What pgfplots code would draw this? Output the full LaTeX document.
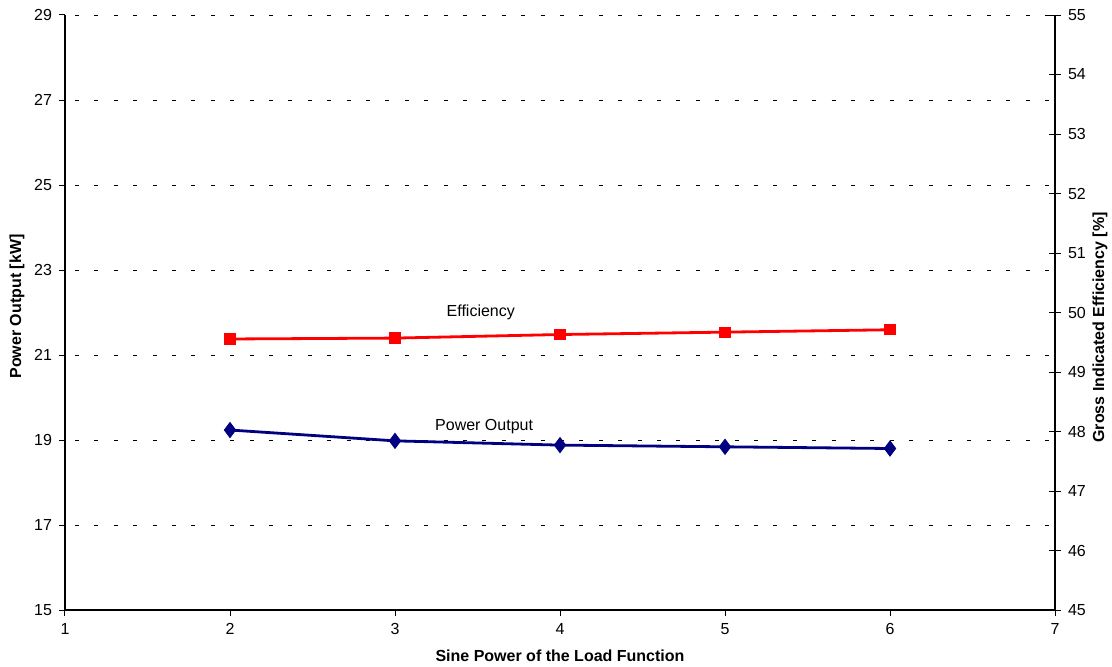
\documentclass[border=0pt]{standalone}
\usepackage{pgfplots}
\pgfplotsset{compat=1.18}
\usepackage{fontspec}
\setmainfont{Liberation Sans}
\definecolor{navyline}{RGB}{0,0,128}
\begin{document}
\begin{tikzpicture}
\useasboundingbox (-32.5pt,-28pt) rectangle (523.5pt,305pt);
\begin{axis}[
 at={(0,0)}, anchor=south west, scale only axis, width=495pt, height=297.5pt,
 xmin=1, xmax=7, ymin=15, ymax=29,
 xtick={1,...,7}, ytick={15,17,...,29},
 axis x line*=bottom, axis y line*=left,
 ymajorgrids, grid style={black, dash pattern=on 2pt off 7.7pt, dash phase=-5pt, line width=0.45pt},
 tick align=outside, major tick length=3pt,
 tick style={black, line width=0.5pt},
 axis line style={black, line width=0.6pt, -},
 ticklabel style={font=\fontsize{8}{9}\selectfont},
 /pgf/number format/assume math mode=true,
 xlabel={Sine Power of the Load Function}, ylabel={Power Output [kW]},
 label style={font=\bfseries\fontsize{8}{9}\selectfont},
 xlabel style={at={(axis description cs:0.5,0)}, anchor=center, yshift=-23pt},
 ylabel style={at={(axis description cs:0,0.51)}, anchor=center, yshift=24pt},
]
\addplot[navyline, line width=1.4pt, mark=diamond*, mark size=3.8pt, mark options={solid, fill=navyline, draw=navyline, line width=0.4pt}]
 coordinates {(2,19.235) (3,18.98) (4,18.88) (5,18.84) (6,18.80)};
\node[font=\fontsize{8}{9}\selectfont] at (axis cs:3.52,22.0) {Efficiency};
\node[font=\fontsize{8}{9}\selectfont] at (axis cs:3.54,19.31) {Power Output};
\end{axis}
\begin{axis}[
 at={(0,0)}, anchor=south west, scale only axis, width=495pt, height=297.5pt,
 xmin=1, xmax=7, ymin=45, ymax=55,
 axis x line=none, axis y line*=right,
 ytick={45,...,55},
 tick align=center, major tick length=6pt,
 tick style={black, line width=0.5pt},
 axis line style={black, line width=0.6pt, -},
 ticklabel style={font=\fontsize{8}{9}\selectfont},
 /pgf/number format/assume math mode=true,
 ylabel={Gross Indicated Efficiency [\%]},
 label style={font=\bfseries\fontsize{8}{9}\selectfont},
 ylabel style={at={(axis description cs:1,0.475)}, anchor=center, yshift=-22.5pt},
]
\addplot[red, line width=1.4pt, mark=square*, mark size=2.1pt, mark options={solid, fill=red, draw=red}]
 coordinates {(2,49.555) (3,49.57) (4,49.63) (5,49.67) (6,49.71)};
\end{axis}
\end{tikzpicture}
\end{document}
